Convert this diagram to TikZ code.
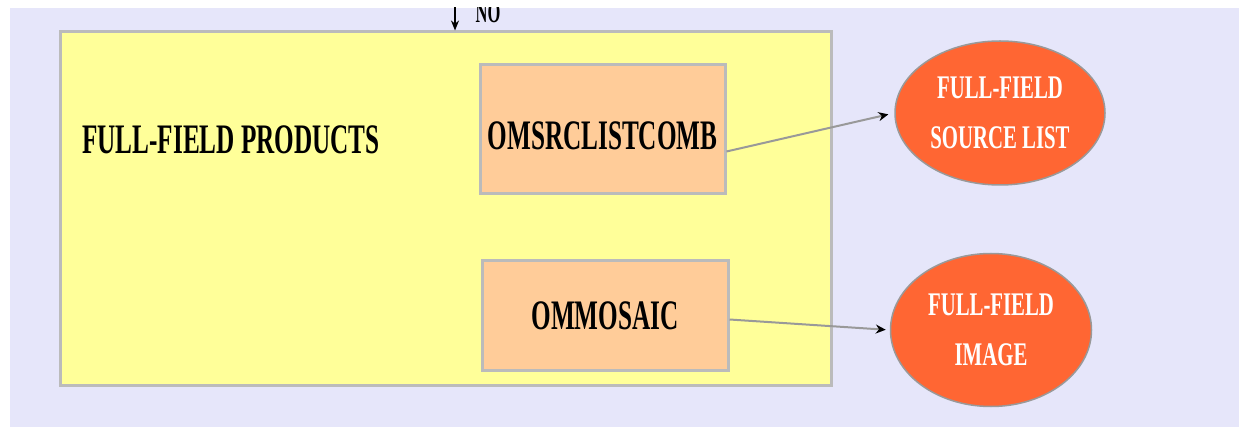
\documentclass[tikz,border=0pt]{standalone}
\usepackage{fontspec}
\setmainfont{Liberation Serif}
\usepackage{graphicx}
\usetikzlibrary{shapes}
\usetikzlibrary{positioning}
\usetikzlibrary{arrows.meta}
\definecolor{lav}{HTML}{E6E6FA}
\definecolor{prodyellow}{HTML}{FFFF99}
\definecolor{peach}{HTML}{FFCC99}
\definecolor{outred}{HTML}{FF6633}
\definecolor{rimgray}{HTML}{BBBBBB}
\newcommand{\narrow}[2][0.6]{\scalebox{#1}[1]{#2}}
\tikzset{
    mybox/.style = {rectangle, line width=3pt, draw=rimgray, fill=prodyellow, inner sep=0pt},
    myboxp/.style = {rectangle, line width=3pt, draw=rimgray, fill=peach, inner sep=0pt, font=\bfseries\fontsize{42}{50}\selectfont, text=black},
    myell/.style = {ellipse, line width=1.5pt, draw=gray!80, fill=outred, inner sep=0pt, align=center, font=\bfseries\fontsize{33}{50}\selectfont, text=white},
    mytitle/.style = {font=\bfseries\fontsize{42}{50}\selectfont, text=black, inner sep=0pt},
    edgea/.style = {-{Stealth[black,length=10pt,width=9pt]}, line width=2pt, gray!80},
    edgek/.style = {-{Stealth[black,length=10pt,width=8pt]}, line width=2pt, black}
}
\begin{document}
\begin{tikzpicture}[x=1pt,y=-1pt]
\useasboundingbox (0,0) rectangle (1239,427);
\fill[lav] (10,8) rectangle (1239,427);
%
\node[mybox, minimum width=771pt, minimum height=353pt] at (445.5,208.5) (prod) {};
\node[mytitle, anchor=west] at (82,140) (title) {\narrow{FULL-FIELD PRODUCTS}};
\node[myboxp, minimum width=245pt, minimum height=129pt, text height=40pt] at (602.5,129.5) (srclist) {\narrow{OMSRCLISTCOMB}};
\node[myboxp, minimum width=246pt, minimum height=109pt] at (605,315.5) (mosaic) {\narrow{OMMOSAIC}};
\node[myell, minimum width=210pt, minimum height=144pt] at (1000,113) (srcout) {\narrow[0.63]{FULL-FIELD}\\\narrow[0.63]{SOURCE LIST}};
\node[myell, minimum width=201pt, minimum height=153pt] at (991,330) (imgout) {\narrow[0.63]{FULL-FIELD}\\\narrow[0.63]{IMAGE}};
%
\draw[edgea, shorten >=6pt] ([yshift=-22pt]srclist.east) -- (srcout.west);
\draw[edgea, shorten >=4pt] ([yshift=-4pt]mosaic.east) -- (imgout.west);
%
\begin{scope}
\clip (10,8) rectangle (1239,427);
\coordinate (topin) at (455,0);
\draw[edgek] (topin) -- (prod.north -| topin);
\node[mytitle, font=\bfseries\fontsize{30}{36}\selectfont, anchor=base] at (488,23) (nolab) {\narrow[0.55]{NO}};
\end{scope}
\end{tikzpicture}
\end{document}
